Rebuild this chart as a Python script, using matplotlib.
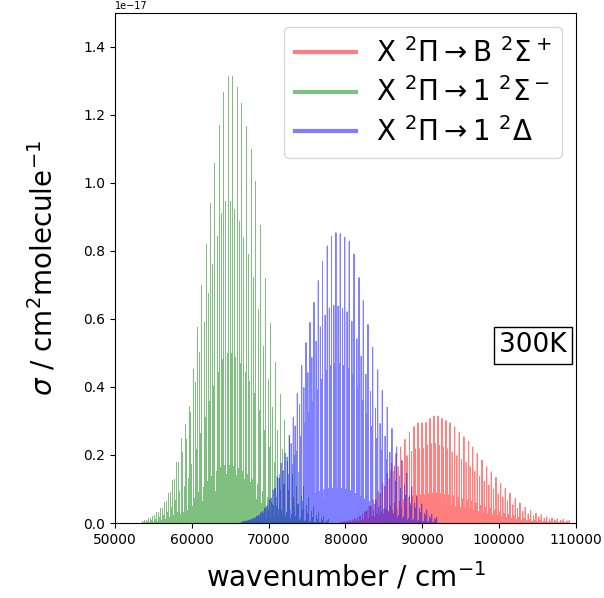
import matplotlib
matplotlib.use("Agg")
import matplotlib.pyplot as plt
from matplotlib.lines import Line2D
import numpy as np

# band heads (cm-1) and peak cross sections (units of 1e-17 cm2/molecule)
red_pos = [79940, 80590, 81240, 81890, 82540, 83100, 83620, 84270, 84840, 85440,
           86010, 86570, 87180, 87740, 88330, 88920, 89440, 89960, 90480, 91000,
           91520, 92040, 92560, 93080, 93600, 94210, 94810, 95420, 96030, 96560,
           97150, 97770, 98380, 98980, 99590, 100200, 100800, 101410, 102100, 102710,
           103400, 104100, 104790, 105480, 106190, 106880, 107570, 108350, 109130]
red_top = [0.004, 0.007, 0.012, 0.02, 0.033, 0.048, 0.067, 0.092, 0.116, 0.145,
           0.175, 0.204, 0.223, 0.245, 0.267, 0.283, 0.294, 0.294, 0.295, 0.307,
           0.314, 0.314, 0.307, 0.301, 0.294, 0.282, 0.267, 0.253, 0.24, 0.223,
           0.204, 0.184, 0.165, 0.15, 0.134, 0.116, 0.102, 0.087, 0.072, 0.058,
           0.046, 0.036, 0.028, 0.024, 0.018, 0.014, 0.012, 0.01, 0.008]

green_pos = [53770, 54300, 54820, 55340, 55860, 56380, 56900, 57420, 58000, 58530,
             59070, 59600, 60090, 60670, 61230, 61840, 62360, 62950, 63540, 64100,
             64670, 65230, 65830, 66400, 67010, 67640, 68220, 68870, 69520, 70170,
             70790, 71440, 72030, 72650, 73300, 73880, 74470, 75120, 75770, 76420,
             77070, 77720]
green_top = [0.008, 0.014, 0.022, 0.032, 0.045, 0.062, 0.088, 0.125, 0.18, 0.25,
             0.29, 0.345, 0.454, 0.575, 0.70, 0.82, 0.94, 1.058, 1.17, 1.266,
             1.315, 1.315, 1.283, 1.234, 1.168, 1.099, 1.006, 0.875, 0.721, 0.587,
             0.472, 0.38, 0.302, 0.253, 0.2, 0.15, 0.11, 0.075, 0.05, 0.032,
             0.02, 0.012]

blue_pos = [66920, 67440, 67960, 68480, 69000, 69520, 70080, 70600, 71120, 71640,
            72160, 72690, 73210, 73730, 74300, 74860, 75380, 75900, 76460, 77010,
            77630, 78180, 78760, 79320, 79900, 80490, 81110, 81760, 82320, 82930,
            83540, 84190, 84790, 85440, 86050, 86660, 87310, 87960, 88620, 89270,
            89920, 90570, 91220, 91870]
blue_top = [0.005, 0.008, 0.013, 0.02, 0.03, 0.044, 0.067, 0.097, 0.136, 0.176,
            0.205, 0.258, 0.311, 0.38, 0.463, 0.53, 0.589, 0.648, 0.712, 0.768,
            0.814, 0.842, 0.853, 0.85, 0.84, 0.827, 0.79, 0.721, 0.653, 0.583,
            0.516, 0.45, 0.389, 0.34, 0.277, 0.223, 0.184, 0.146, 0.106, 0.077,
            0.055, 0.038, 0.025, 0.016]

# lines inside one band: offset from band head (cm-1) and relative strength
red_off = [0, -80, -160, -240, -320, -400, -480, -560]
red_rel = [1.0, 0.15, 0.28, 0.15, 0.74, 0.12, 0.18, 0.10]
green_off = [0, -75, -150, -225, -300, -375, -450, -525]
green_rel = [1.0, 0.11, 0.38, 0.11, 0.72, 0.10, 0.13, 0.08]
blue_off = [0, -70, -140, -210, -280, -350, -420, -490]
blue_rel = [1.0, 0.10, 0.55, 0.10, 0.75, 0.09, 0.12, 0.08]

labels = [r'X $^2\Pi\rightarrow$B $^2\Sigma^+$',
          r'X $^2\Pi\rightarrow$1 $^2\Sigma^-$',
          r'X $^2\Pi\rightarrow$1 $^2\Delta$']
colors = ['r', 'g', 'b']


def stick_spectrum(pos, top, off, rel):
    # one continuous trace: 0 -> peak -> 0 for every line, sorted by wavenumber
    lines = sorted((p + o, t * r) for p, t in zip(pos, top) for o, r in zip(off, rel))
    x = np.repeat([l[0] for l in lines], 3)
    y = np.zeros(len(x))
    y[1::3] = [l[1] for l in lines]
    return x, y


fig = plt.figure(figsize=(6.04, 5.98), dpi=100)
ax = fig.add_axes([0.1904, 0.1254, 0.7632, 0.8533])

systems = [(red_pos, red_top, red_off, red_rel),
           (green_pos, green_top, green_off, green_rel),
           (blue_pos, blue_top, blue_off, blue_rel)]
for (pos, top, off, rel), c in zip(systems, colors):
    x, y = stick_spectrum(pos, top, off, rel)
    ax.plot(x, y, color=c, alpha=0.5, lw=0.7)

ax.set_xlim(50000, 110000)
ax.set_ylim(0, 1.5)
ax.tick_params(labelsize=10)
# scale factor of the y axis
ax.annotate('1e\u221217', xy=(0, 1), xycoords='axes fraction', xytext=(0, 1),
            textcoords='offset points', fontsize=7, ha='left', va='bottom')

ax.set_xlabel(r'wavenumber / cm$^{-1}$', fontsize=20, labelpad=10)
ax.set_ylabel(r'$\sigma$ / cm$^2$molecule$^{-1}$', fontsize=20, labelpad=18)

handles = [Line2D([], [], color=c, alpha=0.5, lw=3) for c in colors]
ax.legend(handles, labels, loc='upper right', fontsize=20, handlelength=2.2,
          labelspacing=0.35, handletextpad=0.7)

ax.text(0.906, 0.348, '300K', transform=ax.transAxes, fontsize=19,
        ha='center', va='center',
        bbox=dict(boxstyle='square,pad=0.2', fc='w', ec='k'))

fig.savefig('out.png', dpi=100)
